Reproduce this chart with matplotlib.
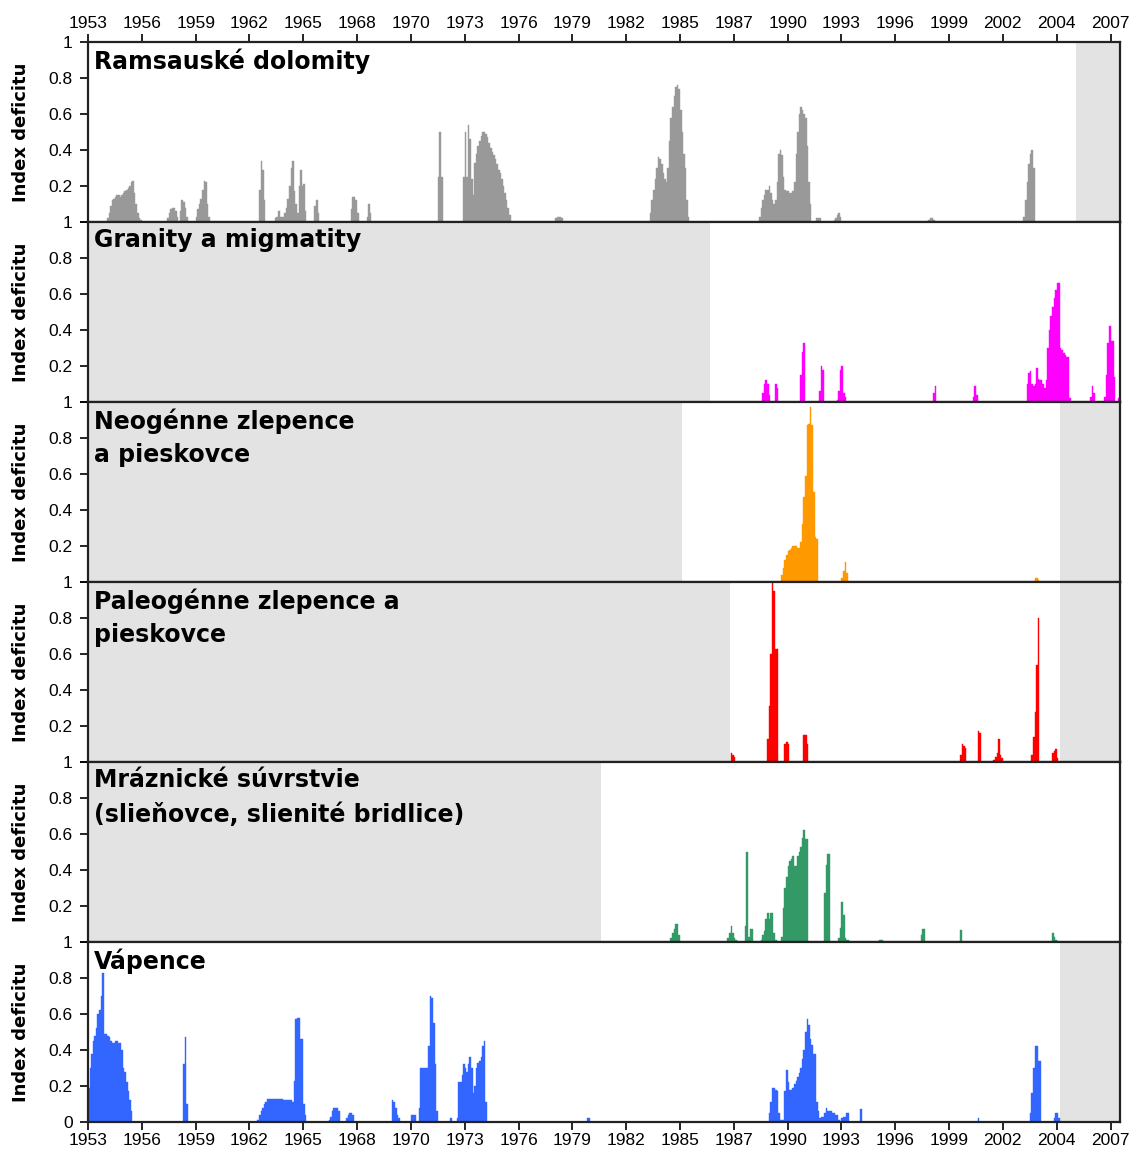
import matplotlib
matplotlib.use("Agg")
import matplotlib.pyplot as plt
import numpy as np

# x axis: month index, 0 = December 1953; ticks every 34 months
tick_labels = ["1953", "1956", "1959", "1962", "1965", "1968", "1970", "1973", "1976",
               "1979", "1982", "1985", "1987", "1990", "1993", "1996", "1999", "2002",
               "2004", "2007"]
tick_step_months = 34
x_end_month = 652

titles = ["Ramsauské dolomity",
          "Granity a migmatity",
          "Neogénne zlepence\na pieskovce",
          "Paleogénne zlepence a\npieskovce",
          "Mráznické súvrstvie\n(slieňovce, slienité bridlice)",
          "Vápence"]
colors = ["#999999", "#ff00ff", "#ff9900", "#ff0000", "#339966", "#3366ff"]

# runs of monthly deficit index values: (start month, [values...])
ramsau = [
    (12, [0.02, 0.05, 0.09, 0.12, 0.13, 0.14, 0.15, 0.15, 0.14, 0.15, 0.16, 0.17, 0.18, 0.19,
          0.2, 0.22, 0.23, 0.16, 0.1, 0.05, 0.02, 0.01]),
    (50, [0.02, 0.05, 0.07, 0.08, 0.08, 0.06, 0.03, 0, 0.06, 0.12, 0.11, 0.08, 0.03]),
    (68, [0.03, 0.07, 0.1, 0.13, 0.18, 0.23, 0.22, 0.1, 0.03]),
    (108, [0.18, 0.34, 0.29, 0.12]),
    (118, [0.02, 0.03, 0.06, 0.03, 0.03, 0.03, 0.05, 0.08, 0.13, 0.2, 0.3, 0.34, 0.17, 0.1,
           0.05, 0.2, 0.29, 0.2, 0.21, 0.06]),
    (143, [0.09, 0.12, 0.05]),
    (166, [0.07, 0.14, 0.14, 0.12, 0.05]),
    (176, [0.03, 0.1, 0.05]),
    (221, [0.25, 0.5, 0.25]),
    (237, [0.25, 0.5, 0.25, 0.54, 0.46, 0.24, 0.15, 0.33, 0.38, 0.42, 0.45, 0.48, 0.5, 0.5,
           0.49, 0.47, 0.44, 0.41, 0.39, 0.37, 0.35, 0.32, 0.29, 0.27, 0.24, 0.2, 0.16, 0.12,
           0.08, 0.04]),
    (295, [0.02, 0.03, 0.03, 0.03, 0.02]),
    (355, [0.05, 0.12, 0.18, 0.24, 0.3, 0.36, 0.35, 0.32, 0.27, 0.24, 0.22, 0.3, 0.45, 0.58,
           0.64, 0.7, 0.75, 0.76, 0.74, 0.62, 0.5, 0.38, 0.3, 0.12, 0.03]),
    (424, [0.03, 0.08, 0.12, 0.15, 0.18, 0.18, 0.2, 0.16, 0.12, 0.1, 0.12, 0.22, 0.38, 0.4,
           0.37, 0.25, 0.18, 0.17, 0.17, 0.16, 0.16, 0.17, 0.22, 0.38, 0.5, 0.6, 0.64, 0.62,
           0.6, 0.58, 0.42, 0.22, 0.1]),
    (460, [0.02, 0.02, 0.02]),
    (471, [0.01, 0.02, 0.04, 0.05, 0.03]),
    (531, [0.01, 0.02, 0.02, 0.01]),
    (591, [0.03, 0.12, 0.22, 0.32, 0.38, 0.4, 0.3]),
]
granity = [
    (426, [0.05, 0.1, 0.12, 0.1, 0.04]),
    (434, [0.1, 0.08]),
    (450, [0.15, 0.28, 0.33]),
    (462, [0.06, 0.2, 0.18]),
    (473, [0.01, 0.06, 0.18, 0.2, 0.05, 0.03]),
    (534, [0.05, 0.09]),
    (559, [0.03, 0.09, 0.04]),
    (593, [0.1, 0.16, 0.17, 0.1, 0.09, 0.1, 0.19, 0.13, 0.12, 0.12, 0.1, 0.08, 0.12, 0.3,
           0.4, 0.48, 0.53, 0.58, 0.62, 0.66, 0.66, 0.3, 0.29, 0.27, 0.26, 0.25, 0.25, 0.02]),
    (633, [0.03, 0.09, 0.05]),
    (642, [0.03, 0.15, 0.33, 0.42, 0.34, 0.34, 0.14]),
    (651, [0.02]),
]
neogen = [
    (438, [0.04, 0.08, 0.12, 0.15, 0.17, 0.18, 0.19, 0.2, 0.2, 0.2, 0.19, 0.19, 0.22, 0.32,
           0.47, 0.59, 0.87, 0.88, 0.97, 0.87, 0.5, 0.25, 0.24]),
    (476, [0.02, 0.06, 0.11, 0.05]),
    (598, [0.02, 0.02, 0.01]),
]
paleogen = [
    (406, [0.05, 0.04, 0.03]),
    (429, [0.13, 0.31, 0.6, 1.0, 0.95, 0.63, 0.63]),
    (440, [0.1, 0.11, 0.1]),
    (452, [0.15, 0.15, 0.1]),
    (551, [0.04, 0.1, 0.09, 0.08]),
    (562, [0.17, 0.16]),
    (572, [0.01, 0.03, 0.05, 0.13, 0.04, 0.02]),
    (596, [0.04, 0.14, 0.28, 0.54, 0.8]),
    (609, [0.05, 0.06, 0.07, 0.02]),
]
mraznicke = [
    (368, [0.02, 0.05, 0.07, 0.1, 0.1, 0.04]),
    (404, [0.02, 0.05, 0.09, 0.05, 0.02, 0.01]),
    (415, [0.09, 0.5, 0.03, 0.07, 0.07]),
    (425, [0.01, 0.04, 0.06, 0.13, 0.16, 0.13, 0.16, 0.16, 0.05, 0.01]),
    (438, [0.03, 0.19, 0.3, 0.36, 0.42, 0.45, 0.46, 0.48, 0.42, 0.42, 0.48, 0.5, 0.53, 0.58,
           0.62, 0.57, 0.57]),
    (465, [0.27, 0.43, 0.49, 0.49]),
    (474, [0.02, 0.08, 0.22, 0.15, 0.02, 0.01, 0.01]),
    (500, [0.01, 0.01]),
    (526, [0.04, 0.07, 0.07]),
    (551, [0.065]),
    (609, [0.05, 0.03, 0.01]),
]
vapence = [
    (0, [0.19, 0.3, 0.38, 0.45, 0.48, 0.52, 0.6, 0.62, 0.7, 0.83, 0.49, 0.49, 0.48, 0.47,
         0.45, 0.44, 0.44, 0.45, 0.45, 0.44, 0.44, 0.4, 0.3, 0.28, 0.22, 0.17, 0.12, 0.06]),
    (60, [0.32, 0.47, 0.1]),
    (107, [0.01, 0.04, 0.06, 0.08, 0.1, 0.11, 0.13, 0.13, 0.13, 0.13, 0.13, 0.13, 0.13, 0.13,
           0.13, 0.13, 0.125, 0.125, 0.12, 0.12, 0.12, 0.12, 0.11, 0.23, 0.57, 0.58, 0.58,
           0.46, 0.46, 0.1, 0.04]),
    (152, [0.01, 0.03, 0.06, 0.08, 0.08, 0.08, 0.06]),
    (163, [0.02, 0.04, 0.05, 0.05, 0.04]),
    (192, [0.12, 0.11, 0.08, 0.04, 0.02]),
    (204, [0.04, 0.04, 0.04]),
    (209, [0.08, 0.3, 0.3, 0.3, 0.3, 0.3, 0.42, 0.7, 0.69, 0.55, 0.32, 0.06]),
    (229, [0.02]),
    (233, [0.02, 0.22, 0.22, 0.26, 0.32, 0.3, 0.28, 0.32, 0.36, 0.3, 0.16, 0.2, 0.3, 0.33,
           0.34, 0.36, 0.42, 0.45, 0.11]),
    (315, [0.02, 0.02]),
    (430, [0.05, 0.11, 0.19, 0.19, 0.18, 0.17, 0.05, 0.01, 0.01, 0.01, 0.17, 0.29, 0.22,
           0.18, 0.18, 0.19, 0.21, 0.23, 0.25, 0.27, 0.3, 0.35, 0.4, 0.5, 0.57, 0.54, 0.46,
           0.43, 0.38, 0.38, 0.11, 0.06, 0.02, 0.03, 0.03, 0.05, 0.08, 0.06, 0.06, 0.06, 0.05,
           0.05, 0.04, 0.04, 0.01, 0, 0.02, 0.03, 0.03, 0.05, 0.05]),
    (488, [0.07]),
    (562, [0.02]),
    (595, [0.05, 0.16, 0.3, 0.42, 0.42, 0.34, 0.34]),
    (610, [0.02, 0.05, 0.05, 0.02]),
]
series = [ramsau, granity, neogen, paleogen, mraznicke, vapence]

# periods without observations (grey), in months
no_data = [
    [(624, 652)],
    [(0, 393)],
    [(0, 375), (614, 652)],
    [(0, 405.5), (614, 652)],
    [(0, 324)],
    [(614, 652)],
]

W, H = 1130, 1162
fig = plt.figure(figsize=(W / 100, H / 100), dpi=100)
left = 88 / W
right = 1120 / W
top = 1 - 42 / H
bottom = 1 - 1122 / H
ph = (top - bottom) / 6

tick_font = dict(family="Liberation Sans", size=12.5)
ticks_x = np.arange(len(tick_labels)) * tick_step_months

for i in range(6):
    ax = fig.add_axes([left, top - (i + 1) * ph, right - left, ph])
    for a, b in no_data[i]:
        ax.axvspan(a, b, color="#e3e3e3", lw=0, zorder=0)
    xs, vs = [], []
    for start, vals in series[i]:
        for k, v in enumerate(vals):
            xs.append(start + k)
            vs.append(v)
    ax.bar(xs, vs, width=1.0, align="edge", color=colors[i], edgecolor=colors[i],
           linewidth=0.3, zorder=2)
    ax.set_xlim(0, x_end_month)
    ax.set_ylim(0, 1)
    yt = [0, 0.2, 0.4, 0.6, 0.8, 1.0]
    ax.set_yticks(yt)
    ylabels = ["0" if i == 5 else "", "0.2", "0.4", "0.6", "0.8", "1"]
    ax.set_yticklabels(ylabels, fontdict=tick_font)
    ax.tick_params(axis="y", direction="out", length=6, width=1.2, pad=5)
    ax.set_xticks(ticks_x)
    if i == 0:
        ax.tick_params(axis="x", top=True, labeltop=True, bottom=False, labelbottom=False,
                       direction="out", length=6, width=1.2, pad=2)
        ax.set_xticklabels(tick_labels, fontdict=tick_font)
    elif i == 5:
        ax.tick_params(axis="x", top=False, labeltop=False, bottom=True, labelbottom=True,
                       direction="out", length=6, width=1.2, pad=2)
        ax.set_xticklabels(tick_labels, fontdict=tick_font)
    else:
        ax.tick_params(axis="x", top=False, bottom=False, labelbottom=False, labeltop=False)
    for s in ax.spines.values():
        s.set_linewidth(1.6)
        s.set_color("#222222")
        s.set_zorder(5)
    ax.set_ylabel("Index deficitu", family="DejaVu Sans", fontweight="bold", fontsize=13)
    ax.yaxis.set_label_coords(-0.056, 0.5)
    ax.text(0.006, 0.965, titles[i], transform=ax.transAxes, ha="left", va="top",
            fontsize=17, fontweight="bold", family="DejaVu Sans", linespacing=1.5,
            zorder=6)

fig.savefig("out.png", dpi=100, facecolor="white")
